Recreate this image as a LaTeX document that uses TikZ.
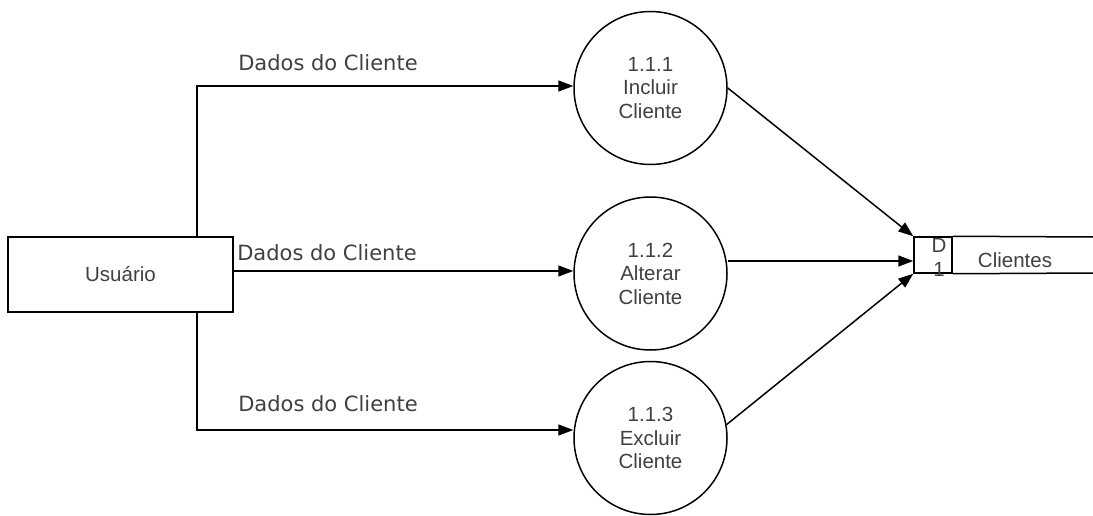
\documentclass[tikz,border=0pt]{standalone}
\usepackage{fontspec}
\setmainfont{Liberation Sans}
\newfontfamily\lblfont{DejaVu Sans}
\usetikzlibrary{arrows.meta,positioning}
\definecolor{txtgray}{RGB}{64,64,64}

\begin{document}
\begin{tikzpicture}[x=1pt,y=-1pt,->,>={Triangle[length=15pt,width=11pt]},line width=1.5pt]
\tikzset{
  entity/.style={draw,-,rectangle,minimum width=225pt,minimum height=75pt,text=txtgray,font=\fontsize{20.5}{24}\selectfont},
  process/.style={draw,-,circle,minimum size=153pt,inner sep=0pt,align=center,text=txtgray,font=\fontsize{20.5}{23.5}\selectfont},
  storeid/.style={draw,-,rectangle,minimum width=38pt,minimum height=36pt,inner sep=0pt},
  storetxt/.style={text=txtgray,font=\fontsize{20.5}{24}\selectfont},
  flowlbl/.style={text=txtgray,font=\lblfont\fontsize{21}{24}\selectfont}
}
\useasboundingbox (0,0) rectangle (1093,516);
\node[entity] (usuario) at (120.5,274.5) {Usuário};
\node[process] (p1) at (650.5,88) {1.1.1\\Incluir\\Cliente};
\node[process] (p2) at (650.5,273.5) {1.1.2\\Alterar\\Cliente};
\node[process] (p3) at (650.5,438) {1.1.3\\Excluir\\Cliente};
\node[storeid] (d1) at (933,255) {};
\node[storetxt,align=center] (d1id) at (939,257) {D\\1};
\node[storetxt] (clientes) at (1015,260) {Clientes};
% fluxos do usuario
\coordinate (j1) at (197,86);
\coordinate (j2) at (233,271);
\coordinate (j3) at (197,430);
\draw (j1 |- usuario.north) -- (j1) -- (j1 -| p1.west);
\draw (j2) -- (j2 -| p2.west);
\draw (j3 |- usuario.south) -- (j3) -- (j3 -| p3.west);
\node[flowlbl] (lbl1) at (328,63) {Dados do Cliente};
\node[flowlbl] (lbl2) at (327,253) {Dados do Cliente};
\node[flowlbl] (lbl3) at (328,404) {Dados do Cliente};
% deposito
\draw[-] (d1.north east) -- (1093,237);
\draw[-] (d1.south east) -- (1093,273);
\coordinate (d1w) at ([yshift=-6pt]d1.west);
\draw (p1.east) -- (d1.north west);
\draw (p2.east |- d1w) -- (d1w);
\draw (p3.10) -- (d1.south west);
\end{tikzpicture}
\end{document}
